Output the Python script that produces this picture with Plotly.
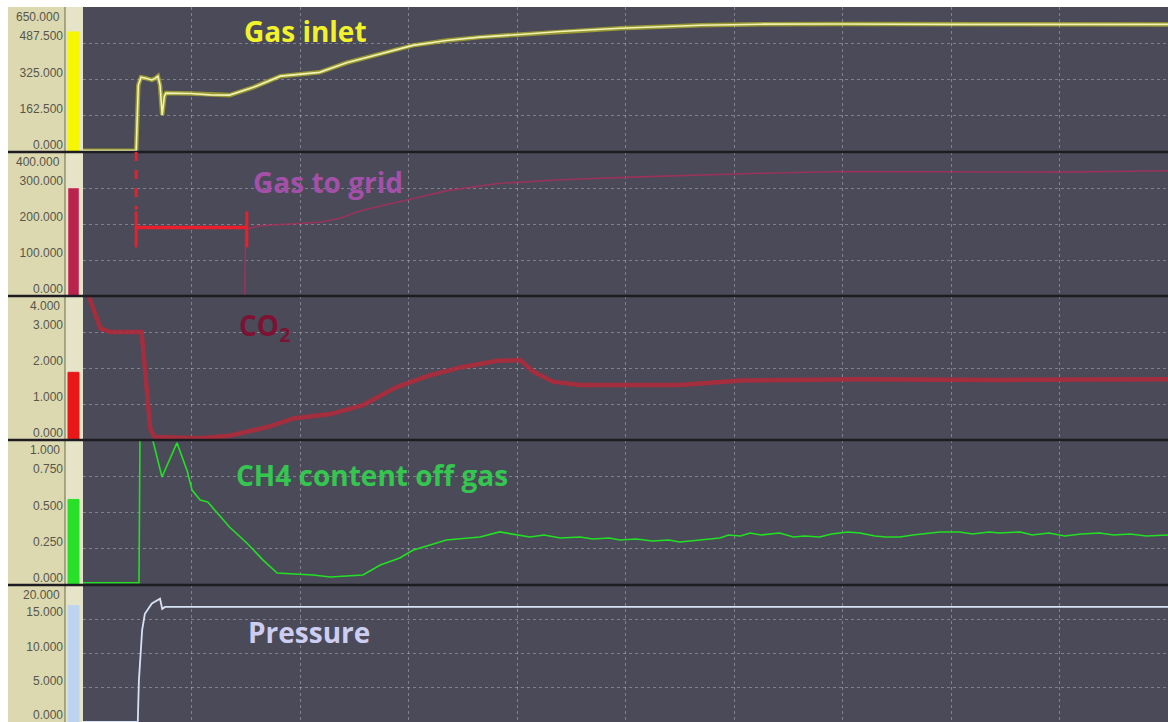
import plotly.graph_objects as go
from plotly.subplots import make_subplots

# ---------------- data (time axis: 0-100 %) ----------------
gas_inlet_x = [0, 4.9, 5.1, 5.35, 5.7, 6.35, 6.65, 6.9, 7.1, 7.3, 7.5, 7.65, 9.9, 11.7, 13.5,
               15.7, 18.2, 21.8, 24.3, 27.4, 30.4, 33.5, 36.6, 40.3, 44.0, 49.5, 56.9, 62.4,
               69.8, 79.9, 90.0, 100]
gas_inlet_v = [6, 6, 300, 335, 332, 323, 330, 340, 300, 166, 250, 264, 262, 256, 255,
               290, 340, 357, 400, 440, 478, 500, 515, 527, 540, 555, 568, 573,
               574, 572, 571, 572]

gas_grid_x = [0, 14.9, 15.0, 16.3, 21.8, 23.7, 25.5, 27.4, 31.1, 33.4, 38.4, 44.0, 51.3,
              56.9, 62.4, 69.8, 79.9, 90.0, 100]
gas_grid_v = [0, 0, 185, 195, 205, 216, 236, 250, 275, 292, 313, 323, 331,
              337, 341, 346, 345, 344, 348]

co2_x = [0.3, 0.9, 1.6, 2.5, 5.4, 5.7, 6.2, 6.6, 10.8, 13.5, 17.0, 19.4, 22.8, 25.8, 28.9,
         32.0, 35.0, 38.2, 40.3, 41.5, 43.3, 45.8, 55.0, 60.6, 71.6, 84.5, 93.7, 100]
co2_v = [4.2, 3.7, 3.1, 3.0, 3.0, 2.0, 0.3, 0.08, 0.05, 0.12, 0.36, 0.6, 0.72, 0.97, 1.47,
         1.8, 2.03, 2.2, 2.22, 1.9, 1.62, 1.53, 1.53, 1.65, 1.69, 1.67, 1.67, 1.69]

ch4_x = [0, 5.16, 5.25, 5.7, 6.36, 7.28, 8.66, 9.59, 10.05, 10.8, 11.5, 12.35, 13.5, 15.1,
         16.6, 17.9, 21.2, 22.8, 25.8, 27.4, 29.2, 30.4, 32.0, 33.5, 36.6, 38.4,
         41.2, 42.5, 44.0, 45.8, 47.0, 48.5, 49.5, 51.0, 52.5, 54.0, 55.0, 56.5, 57.5, 58.7,
         59.5, 60.6, 61.5, 62.5, 64.2, 65.5, 66.5, 67.9, 69.0, 70.5, 71.6, 73.0, 74.0, 75.3,
         76.5, 78.0, 79.0, 80.8, 82.0, 83.5, 84.5, 86.4, 87.5, 89.0, 90.5, 92.0, 93.7, 95.0,
         96.5, 98.0, 100]
ch4_v = [0.015, 0.015, 1.0, 1.1, 1.02, 0.745, 0.98, 0.79, 0.655, 0.586, 0.572, 0.497, 0.4, 0.29,
         0.172, 0.083, 0.069, 0.055, 0.069, 0.138, 0.186, 0.24, 0.276, 0.31, 0.331, 0.366,
         0.331, 0.345, 0.324, 0.331, 0.317, 0.324, 0.31, 0.317, 0.303, 0.31, 0.297, 0.31, 0.317, 0.324,
         0.345, 0.338, 0.359, 0.345, 0.359, 0.331, 0.338, 0.331, 0.352, 0.366, 0.359, 0.338, 0.331, 0.331,
         0.345, 0.359, 0.366, 0.366, 0.352, 0.366, 0.359, 0.366, 0.345, 0.359, 0.338, 0.352, 0.359, 0.345,
         0.352, 0.338, 0.345]

pressure_x = [0, 5.05, 5.15, 5.35, 5.45, 5.7, 6.35, 7.1, 7.3, 7.55, 100]
pressure_v = [0, 0, 6, 11, 13.4, 15.8, 17.3, 18.0, 16.5, 16.8, 16.8]

panel_names = ["Gas inlet", "Gas to grid", "CO<sub>2</sub>", "CH4 content off gas", "Pressure"]
axis_max = [650, 400, 4, 1, 20]
tick_values = [[0, 162.5, 325, 487.5], [0, 100, 200, 300], [0, 1, 2, 3],
               [0, 0.25, 0.5, 0.75], [0, 5, 10, 15]]
bar_values = [538, 300, 1.88, 0.59, 17.0]
# label positions (x, y) of the panel names, in data units
name_pos = [(20.5, 542), (22.6, 317), (16.7, 3.14), (26.6, 0.76), (20.8, 13.1)]
# red delay bracket drawn on the "Gas to grid" panel
delay_start, delay_end, delay_level = 4.9, 15.1, 190

# ---------------- styling ----------------
line_colors = ["#f2f2b4", "#a8305c", "#b42a3a", "#22e022", "#d6e2f4"]
line_widths = [1.6, 1.6, 4.5, 1.6, 1.8]
name_colors = ["#f2f22c", "#a450a8", "#7e1232", "#35c650", "#cccdf0"]
bar_colors = ["#f6f600", "#b8244c", "#e81818", "#28e028", "#bcd4f0"]
plot_bg = "#4a4a59"
grid_col = "rgba(205,205,215,0.42)"
label_font = dict(family="Liberation Sans, Arial", size=12, color="#56564a")

W, H = 1168, 722
page_left, page_top = 83, 7
bounds_px = [7, 152, 296, 440, 585, 722]
plot_w = W - page_left
plot_h = H - page_top


def px_x(p):
    return (p - page_left) / plot_w


def px_y(p):
    return (H - p) / plot_h


fig = make_subplots(rows=5, cols=1, shared_xaxes=True, vertical_spacing=0)

series = [(gas_inlet_x, gas_inlet_v), (gas_grid_x, gas_grid_v), (co2_x, co2_v),
          (ch4_x, ch4_v), (pressure_x, pressure_v)]
# yellow glow under the gas inlet line
fig.add_trace(go.Scatter(x=gas_inlet_x, y=gas_inlet_v, mode="lines", showlegend=False,
                         line=dict(color="rgba(215,215,20,0.55)", width=4.5),
                         hoverinfo="skip"), row=1, col=1)
for i, (xs, vs) in enumerate(series):
    fig.add_trace(go.Scatter(x=xs, y=vs, mode="lines", showlegend=False,
                             line=dict(color=line_colors[i], width=line_widths[i]),
                             opacity=0.85 if i in (1, 2) else 1.0,
                             hoverinfo="skip"), row=i + 1, col=1)

shapes = []
annotations = []
# label column backgrounds
shapes.append(dict(type="rect", xref="paper", yref="paper", x0=px_x(8), x1=px_x(65),
                   y0=0, y1=1, fillcolor="#dcd9b1", line_width=0, layer="below"))
shapes.append(dict(type="rect", xref="paper", yref="paper", x0=px_x(65), x1=0,
                   y0=0, y1=1, fillcolor="#e6e4c8", line_width=0, layer="below"))
shapes.append(dict(type="line", xref="paper", yref="paper", x0=px_x(65), x1=px_x(65),
                   y0=0, y1=1, line=dict(color="#6a6a44", width=1)))

for i in range(5):
    ax = "" if i == 0 else str(i + 1)
    dom = [px_y(bounds_px[i + 1]), px_y(bounds_px[i])]
    fig.update_layout(**{
        f"yaxis{ax}": dict(domain=dom, range=[0, axis_max[i]], tickvals=tick_values[i],
                           tickformat=".3f", ticks="", ticklabelposition="outside",
                           ticklabelstandoff=19, ticklabelshift=-7,
                           ticklabeloverflow="allow",
                           tickfont=label_font, showgrid=True, gridcolor=grid_col,
                           griddash="dot", gridwidth=1, zeroline=False, showline=False,
                           fixedrange=True),
        f"xaxis{ax}": dict(range=[0, 100], dtick=10, tick0=0, showticklabels=False,
                           showgrid=True, gridcolor=grid_col, griddash="dot", gridwidth=1,
                           zeroline=False, showline=False, ticks="", fixedrange=True),
    })
    yref = f"y{ax}"
    xref = f"x{ax}"
    # top tick label sits inside the panel
    annotations.append(dict(xref="paper", yref=yref, x=px_x(62), y=axis_max[i],
                            xanchor="right", yanchor="top", yshift=-1, showarrow=False,
                            text=f"{axis_max[i]:.3f}", font=label_font))
    # current value bar
    shapes.append(dict(type="rect", xref="paper", yref=yref, x0=px_x(68), x1=px_x(79),
                       y0=0, y1=bar_values[i], fillcolor=bar_colors[i],
                       line=dict(color="rgba(255,200,210,0.5)" if i == 1 else bar_colors[i],
                                 width=1)))
    # panel name
    annotations.append(dict(xref=xref, yref=yref, x=name_pos[i][0], y=name_pos[i][1],
                            text=f"<b>{panel_names[i]}</b>", showarrow=False,
                            font=dict(family="Open Sans, Lato", size=28, color=name_colors[i])))

# panel separators
for b in bounds_px[1:-1]:
    shapes.append(dict(type="line", xref="paper", yref="paper", x0=px_x(8), x1=1,
                       y0=px_y(b), y1=px_y(b), line=dict(color="#1c1c22", width=2.5)))

# red delay bracket on panel 2
red = "#e8202c"
shapes.append(dict(type="line", xref="x2", yref="y2", x0=delay_start, x1=delay_start,
                   y0=400, y1=delay_level + 50, line=dict(color=red, width=3, dash="dash")))
shapes.append(dict(type="line", xref="x2", yref="y2", x0=delay_start, x1=delay_end,
                   y0=delay_level, y1=delay_level, line=dict(color=red, width=3.5)))
for xv in (delay_start, delay_end):
    shapes.append(dict(type="line", xref="x2", yref="y2", x0=xv, x1=xv,
                       y0=delay_level - 55, y1=delay_level + 45,
                       line=dict(color=red, width=3)))

fig.update_layout(width=W, height=H,
                  margin=dict(l=page_left, r=0, t=page_top, b=0),
                  paper_bgcolor="white", plot_bgcolor=plot_bg, showlegend=False,
                  hovermode=False, shapes=shapes, annotations=annotations)

# remove the default page margin so the 1168x722 figure fills the window exactly
fig.write_html("out.html", config={"displayModeBar": False},
               post_script="document.body.style.margin='0';document.body.style.overflow='hidden';")
